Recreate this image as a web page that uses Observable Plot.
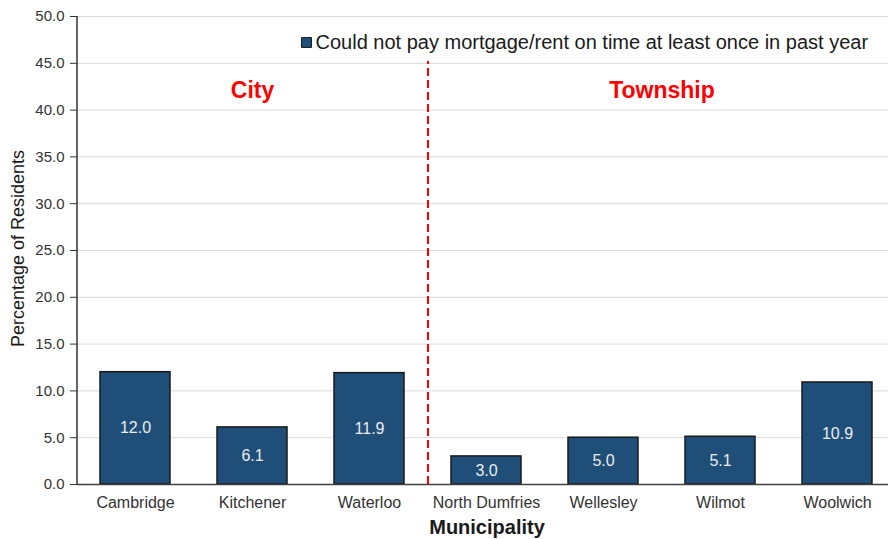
<!DOCTYPE html>
<html>
<head>
<meta charset="utf-8">
<script src="https://cdn.jsdelivr.net/npm/d3@7"></script>
<script src="https://cdn.jsdelivr.net/npm/@observablehq/plot@0.6"></script>
<style>
  html, body { margin: 0; padding: 0; background: #fff; overflow: hidden; }
  svg { overflow: hidden; }
</style>
</head>
<body>
<div id="chart"></div>
<script>
const municipalities = ["Cambridge", "Kitchener", "Waterloo", "North Dumfries", "Wellesley", "Wilmot", "Woolwich"];
const values = [12.0, 6.1, 11.9, 3.0, 5.0, 5.1, 10.9];
const groupLabels = ["City", "Township"];
const seriesName = "Could not pay mortgage/rent on time at least once in past year";
const yTicks = [0, 5, 10, 15, 20, 25, 30, 35, 40, 45, 50];

const data = municipalities.map((m, i) => ({ municipality: m, value: values[i] }));

const W = 888, H = 539;
const mLeft = 77, xRight = 896, mTop = 16, mBottom = 55;
const step = (xRight - mLeft) / municipalities.length;
const font = "'Liberation Sans', Arial, sans-serif";

const chart = Plot.plot({
  width: W,
  height: H,
  marginLeft: mLeft,
  marginRight: 0,
  marginTop: mTop,
  marginBottom: mBottom,
  style: { fontFamily: font, background: "#fff" },
  x: { domain: municipalities, range: [mLeft, xRight], paddingInner: 0.4, paddingOuter: 0.2 },
  y: { domain: [0, 50] },
  marks: [
    Plot.gridY(yTicks, { stroke: "#d9d9d9", strokeOpacity: 1, strokeWidth: 1 }),
    Plot.barY(data, { x: "municipality", y: "value", fill: "#1F4E79", stroke: "#1a1a1a", strokeWidth: 1.5 }),
    Plot.text(data, { x: "municipality", y: d => d.value / 2, text: d => d3.format(".1f")(d.value), fill: "#ececec", fontSize: 16 }),
    Plot.ruleY([0], { stroke: "#404040", strokeWidth: 1.5 }),
    Plot.axisY({ ticks: yTicks, tickFormat: d3.format(".1f"), tickSize: 7, tickPadding: 6, fontSize: 15, color: "#333", label: null, stroke: "#333" }),
    Plot.ruleX([{ y1: 0, y2: 50 }], { x: () => municipalities[0], y1: "y1", y2: "y2", dx: -step / 2, stroke: "#333", strokeWidth: 1.5 }),
    Plot.axisX({ tickSize: 0, tickPadding: 12, fontSize: 16, color: "#333", label: null }),
    Plot.ruleX([{ y1: 0, y2: 45.2 }], { x: () => municipalities[3], y1: "y1", y2: "y2", dx: -step / 2, stroke: "#ff0000", strokeWidth: 2, strokeDasharray: "8,4" }),
    Plot.text([groupLabels[0]], { x: () => municipalities[1], y: 42.1, text: d => d, fill: "#ff0000", fontSize: 23, fontWeight: "bold" }),
    Plot.text([groupLabels[1]], { x: () => municipalities[4], y: 42.1, dx: step / 2, text: d => d, fill: "#ff0000", fontSize: 23, fontWeight: "bold" }),
    Plot.dot([seriesName], { frameAnchor: "top-left", dx: 306 - mLeft, dy: 42 - mTop, symbol: "square", r: 5.6, fill: "#1F4E79", stroke: "#1a1a1a", strokeWidth: 1 }),
    Plot.text([seriesName], { frameAnchor: "top-left", dx: 315 - mLeft, dy: 42 - mTop, text: d => d, textAnchor: "start", lineAnchor: "middle", fontSize: 20, fill: "#1a1a1a" }),
    Plot.text(["Percentage of Residents"], { frameAnchor: "left", dx: 18 - mLeft, dy: -2, text: d => d, textAnchor: "middle", rotate: -90, fontSize: 18, fill: "#1a1a1a" }),
    Plot.text(["Municipality"], { frameAnchor: "bottom", dx: 4, dy: 527 - (H - mBottom), text: d => d, fontSize: 20, fontWeight: "bold", fill: "#1a1a1a", lineAnchor: "middle" })
  ]
});
document.getElementById("chart").appendChild(chart);
</script>
</body>
</html>
